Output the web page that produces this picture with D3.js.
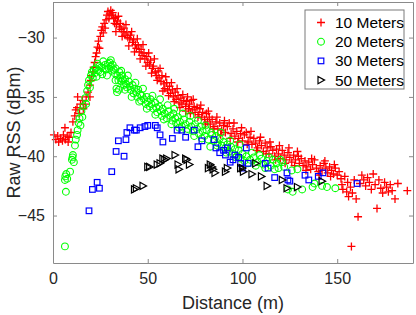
<!DOCTYPE html>
<html>
<head>
<meta charset="utf-8">
<script src="https://cdn.jsdelivr.net/npm/d3@7"></script>
<style>
    html, body { margin: 0; padding: 0; background: #fff; }
    svg { display: block; font-family: "Liberation Sans", Arial, sans-serif; }
</style>
</head>
<body>
<div id="chart"></div>
<script>
// ---- data: [distance (m), raw RSS (dBm)]
const labels = ['10 Meters', '20 Meters', '30 Meters', '50 Meters'];
const xTicks = [0, 50, 100, 150];
const yTicks = [-45, -40, -35, -30];

const meters10 = [
    [0.5,-38.2],[1.5,-38.6],[2.5,-38.3],[3,-38.8],[4,-38.5],[5,-38.7],[5.5,-38.2],[6.3,-37.6],[6.5,-38.6],[7.5,-38.3],
    [8,-38.8],[8.5,-38.4],[9.5,-38.0],[10.5,-37.1],[11.5,-36.6],[12,-36.1],[12.7,-35.9],[13,-35.0],[14,-36.4],[14.5,-35.6],
    [15.5,-35.3],[16,-36.0],[17,-35.6],[17.5,-35.0],[18.5,-34.6],[19.5,-35.0],[19.5,-34.0],[20,-33.6],[20.5,-33.2],[21,-32.9],
    [21.5,-32.5],[22,-32.1],[22.5,-31.6],[23,-31.3],[23.5,-30.8],[24,-30.3],[24.5,-30.9],[25,-29.9],[25.5,-29.4],[26,-29.1],
    [26.5,-29.6],[27,-28.8],[27.5,-29.2],[28,-28.5],[28.5,-28.1],[29,-27.8],[29.5,-28.4],[30,-28.0],[30.5,-27.7],[31,-28.1],
    [31.5,-27.9],[32,-28.4],[32.5,-28.8],[33,-28.3],[33.5,-28.9],[34,-28.6],[35,-29.1],[35.5,-28.8],[36,-29.3],[37,-29.5],
    [37.5,-29.2],[38,-29.8],[39,-29.6],[39.5,-30.0],[40.5,-30.1],[41,-29.8],[42,-30.4],[42.5,-30.2],[43.5,-30.6],[44,-30.9],
    [45,-30.7],[45.5,-31.2],[46.5,-31.0],[47,-31.5],[48,-31.3],[48.5,-31.8],[49.5,-31.6],[50,-32.1],[51,-32.3],[51.5,-31.9],
    [52.5,-32.6],[53,-32.4],[54,-32.9],[54.5,-33.2],[55.5,-32.8],[56,-33.4],[57,-33.7],[57.5,-33.2],[58.5,-33.9],[59,-34.3],
    [60,-33.8],[60.5,-34.4],[61.5,-34.1],[62,-34.7],[63,-34.4],[63.5,-35.0],[64.5,-34.6],[65,-35.2],[66,-34.9],[66.5,-35.5],
    [67.5,-35.1],[68,-35.6],[69,-35.3],[70,-35.8],[70.5,-35.4],[71.5,-36.0],[72,-35.6],[73,-35.3],[73.5,-36.1],[74.5,-35.8],
    [75,-36.3],[76,-35.9],[77,-36.5],[77.5,-36.0],[78.5,-36.7],[79,-36.3],[80,-36.9],[81,-36.4],[81.5,-37.1],[82.5,-36.7],
    [83,-37.3],[84,-36.9],[85,-37.5],[86,-37.1],[87,-37.7],[88,-37.2],[89,-37.8],[90,-37.4],[91,-38.0],[92,-37.5],
    [93,-37.2],[94,-38.1],[95,-37.7],[96,-38.3],[97,-37.9],[98,-38.5],[99,-38.1],[100,-38.7],[101,-38.2],[102,-38.0],
    [103,-38.8],[104,-38.4],[105,-39.0],[106,-38.5],[107,-38.9],[108,-39.3],[109,-38.7],[110,-39.1],[111,-39.6],[112,-38.9],
    [113,-39.3],[114,-39.8],[115,-39.2],[116,-39.5],[117,-40.0],[118,-39.4],[119,-39.8],[120,-40.2],[121,-39.5],[122,-39.9],
    [123,-40.3],[124,-39.7],[125,-40.1],[126,-40.5],[127,-39.9],[128,-40.3],[129,-39.6],[130,-40.6],[131,-40.2],[132,-40.8],
    [133,-40.4],[134,-40.9],[135,-40.5],[136,-41.1],[137,-40.7],[138,-40.3],[139,-41.0],[140,-41.3],[141,-40.8],[142,-41.2],
    [143,-40.6],[144,-41.0],[145,-41.4],[146,-40.9],[147,-41.2],[148,-41.5],[149,-41.0],[150,-41.6],[151,-41.3],[152,-41.9],
    [152.5,-42.4],[153,-42.8],[154,-41.7],[155,-43.0],[155.5,-42.2],[156,-43.4],[157,-42.6],[157.5,-47.6],[158,-43.1],[159,-42.0],
    [160,-43.6],[161,-45.1],[162,-42.3],[163,-41.6],[164,-42.0],[165,-42.5],[166,-41.8],[167,-42.2],[168,-42.8],[169,-41.5],
    [170,-42.4],[171,-44.4],[172,-42.0],[173,-42.7],[174,-43.1],[175,-42.2],[176,-42.6],[177,-43.0],[178,-42.4],[179,-42.9],
    [180.5,-43.6],[182,-42.3],[187,-42.9],
    // second pass over the wide part of the band
    [33.2,-29.5],[34.5,-28.2],[36.5,-29.9],[38.5,-28.9],[40,-30.7],[41.5,-29.5],[43,-31.2],[44.5,-30.1],[46,-31.8],[47.5,-30.6],
    [49,-32.4],[50.5,-31.3],[52,-33.0],[53.5,-31.8],[55,-33.6],[56.5,-32.6],[58,-34.5],[59.5,-33.3],[61,-34.9],[62.5,-33.8],
    [64,-35.4],[65.5,-34.3],[67,-35.9],[68.5,-34.8],[70,-36.2],[71,-35.0],[72.5,-36.4],[74,-35.2],[76.5,-36.7],[78,-35.7],
    [80.5,-37.3],[82,-36.2],[84.5,-37.7],[86.5,-36.7],[88.5,-38.2],[90.5,-37.0],[93.5,-38.5],[95.5,-37.2],[97.5,-38.8],[99.5,-37.6],
    [102.5,-39.0],[104.5,-37.9],[107.5,-39.5],[109.5,-38.4],[112.5,-39.8],[114.5,-38.8],[117.5,-40.3],[119.5,-39.1],[122.5,-40.6],[124.5,-39.3],
    [127.5,-40.8],[129.5,-40.0],[133.5,-41.2],[136.5,-40.2],[140.5,-41.6],[143.5,-40.4],[146.5,-41.7],[148.5,-40.7]
];

const meters20 = [
    [6.3,-47.6],[6.8,-43.0],[6.3,-42.0],[6.5,-41.7],[7,-41.5],[7.5,-41.9],[9,-41.3],[10,-40.3],[10.3,-40.1],[10.5,-39.9],
    [11,-40.5],[11.6,-39.1],[12,-38.6],[12.7,-38.2],[13,-37.8],[13.5,-37.2],[14,-36.8],[14.5,-37.4],[15,-36.2],[15.5,-36.7],
    [16,-35.8],[17,-35.1],[17.5,-35.6],[18,-34.5],[18.5,-34.0],[19,-33.6],[19.5,-34.2],[20,-33.2],[20.5,-32.9],[21,-33.4],
    [21.5,-32.7],[22,-33.0],[22.5,-32.6],[23,-33.3],[24,-32.8],[24.5,-32.4],[25,-32.9],[25.5,-32.5],[26,-33.1],[27,-32.6],
    [27.5,-32.3],[28,-32.7],[29,-32.2],[29.5,-32.6],[30,-32.1],[30.5,-32.4],[31,-32.8],[31.5,-32.3],[32,-32.7],[32.5,-33.0],
    [33,-32.6],[33.5,-34.3],[33.8,-34.6],[34,-33.2],[34.5,-33.6],[35,-32.9],[35.5,-33.4],[36,-33.7],[36.5,-33.2],[37,-33.6],
    [37.5,-34.0],[38,-33.5],[38.5,-33.9],[39,-34.2],[40,-33.7],[40.5,-34.1],[41,-34.4],[42,-34.0],[42.5,-34.7],[43,-34.3],
    [44,-34.6],[44.5,-35.0],[45,-34.4],[46,-34.8],[46.5,-35.3],[47,-34.9],[48,-35.2],[49,-35.6],[49.5,-35.0],[50,-35.4],
    [51,-35.8],[51.5,-35.2],[52,-35.6],[53,-36.0],[54,-35.5],[54.5,-35.9],[55,-36.3],[56,-35.8],[57,-36.2],[57.5,-36.6],
    [58,-36.0],[59,-36.4],[60,-36.8],[61,-36.2],[62,-36.6],[63,-37.0],[63.5,-36.4],[64.5,-36.8],[65,-37.2],[66,-36.7],
    [67,-37.1],[68,-37.5],[69,-36.9],[70,-37.3],[71,-37.7],[72,-37.1],[73,-37.5],[74,-37.9],[75,-37.3],[76,-37.7],
    [77,-38.1],[78,-37.5],[79,-37.9],[80,-38.3],[81,-37.8],[82,-38.6],[83,-39.2],[84,-38.2],[85,-38.7],[86,-38.3],
    [87,-38.9],[88,-38.5],[89,-39.1],[90,-38.8],[91,-39.3],[92,-39.0],[93,-39.6],[94,-39.2],[95,-39.8],[96,-39.4],
    [97,-40.0],[98,-39.5],[99,-40.2],[100,-39.8],[101,-40.4],[102,-40.0],[104,-40.3],[106,-40.1],[108,-40.5],[110,-40.2],
    [111,-40.7],[113,-40.4],[115,-40.8],[116,-40.3],[118,-40.6],[119,-41.0],[121,-40.5],[122,-40.9],[124,-42.8],[126,-41.2],
    [126.5,-43.0],[129,-41.1],[131.5,-42.8],[137,-42.6],[138,-42.3],[142,-42.5],[144.6,-42.6],[149,-42.7],
    // second pass over the wide part of the band
    [23.5,-32.2],[26.5,-32.0],[28.5,-33.2],[30.5,-31.9],[33,-33.6],[34.8,-34.4],[36,-32.8],[38,-34.4],[39.5,-33.2],[41.5,-35.0],
    [43.5,-33.8],[45.5,-35.4],[47.5,-34.3],[49.5,-36.0],[52.5,-34.9],[54,-36.5],[56.5,-35.2],[58.5,-36.9],[60.5,-35.7],[62.5,-37.3],
    [64,-36.0],[66.5,-37.6],[68.5,-36.4],[70.5,-37.9],[72.5,-36.6],[74.5,-38.3],[76.5,-37.0],[78.5,-38.5],[80.5,-37.4],[83.5,-38.0],
    [86.5,-39.1],[88.5,-38.0],[91.5,-39.7],[93.5,-38.7],[96.5,-40.1],[98.5,-39.0],[103,-40.6],[105,-39.7],[107,-40.8],[109,-39.9],
    [112,-41.0],[114,-40.1],[117,-41.1],[120,-40.3]
];

const meters30 = [
    [19,-44.6],[20.8,-42.8],[23.3,-42.2],[24.5,-42.7],[31,-41.3],[33.3,-39.6],[34.5,-38.7],[37.5,-40.0],[38.5,-38.6],[39,-38.0],
    [40.6,-37.6],[43,-37.8],[44,-37.8],[46,-37.6],[48.5,-37.5],[50,-37.4],[54,-37.4],[55,-37.6],[56.5,-38.2],[58,-38.8],
    [63,-38.5],[65.5,-37.8],[68,-37.8],[70,-38.4],[74.5,-37.8],[76.5,-39.2],[78.6,-38.7],[85,-38.6],[86,-39.3],[88,-39.7],
    [90,-39.5],[91,-39.9],[92,-39.3],[93.5,-40.5],[95,-40.3],[96,-39.9],[98,-40.1],[99,-40.6],[100,-41.0],[102,-39.3],
    [103,-40.6],[112,-40.6],[113.5,-41.0],[117,-41.8],[123.5,-41.4],[124,-42.0],[125,-42.1],[133,-41.6],[135,-42.0],[140,-41.7],
    [142.5,-41.4],[160.5,-42.3]
];

const meters50 = [
    [43,-42.8],[44,-42.7],[47.5,-42.5],[50,-40.9],[51,-40.9],[55,-40.7],[56.5,-40.6],[58,-40.2],[59,-40.3],[60,-40.2],
    [64.4,-39.9],[66,-40.7],[66.5,-41.1],[70,-40.2],[70.7,-40.3],[72,-40.7],[82,-41.0],[83,-40.7],[84,-40.9],[84.5,-41.1],
    [85.5,-41.4],[91,-41.3],[92,-41.0],[99,-41.0],[100,-41.0],[100.5,-41.3],[105,-41.5],[107,-40.6],[110,-41.7],[113,-42.5],
    [121,-42.0],[123.5,-42.7],[129,-42.6],[142,-42.1]
];

// -------------------------
const W = 416, H = 315;
const margin = { top: 2, right: 3, bottom: 52, left: 53 };
const width = W - margin.left - margin.right;
const height = H - margin.top - margin.bottom;
const axisColor = '#8a8a8a';
const textColor = '#262626';

const x = d3.scaleLinear().domain([0, 190]).range([0, width]);
const y = d3.scaleLinear().domain([-49, -27]).range([height, 0]);

const svg = d3.select('#chart')
    .append('svg')
    .attr('width', W)
    .attr('height', H);

const g = svg.append('g')
    .attr('transform', `translate(${margin.left}, ${margin.top})`);

// marker drawers, one per series
function plus(sel, color) {
    sel.append('path')
        .attr('d', 'M-4,0H4M0,-4V4')
        .attr('stroke', color)
        .attr('stroke-width', 1.3)
        .attr('fill', 'none');
}
function circle(sel, color) {
    sel.append('circle')
        .attr('r', 3.4)
        .attr('stroke', color)
        .attr('stroke-width', 1.1)
        .attr('fill', 'none');
}
function square(sel, color) {
    sel.append('rect')
        .attr('x', -2.8).attr('y', -2.8)
        .attr('width', 5.6).attr('height', 5.6)
        .attr('stroke', color)
        .attr('stroke-width', 1.2)
        .attr('fill', 'none');
}
function triangle(sel, color) {
    sel.append('path')
        .attr('d', 'M-3,-3.6L3.6,0L-3,3.6Z')
        .attr('stroke', color)
        .attr('stroke-width', 1.2)
        .attr('fill', 'none');
}

const series = [
    { data: meters10, color: '#ff0000', draw: plus },
    { data: meters20, color: '#00ff00', draw: circle },
    { data: meters30, color: '#0000ff', draw: square },
    { data: meters50, color: '#000000', draw: triangle }
];

// points
series.forEach(s => {
    g.append('g')
        .selectAll('g')
        .data(s.data)
        .enter()
        .append('g')
        .attr('transform', d => `translate(${x(d[0])}, ${y(d[1])})`)
        .each(function () { s.draw(d3.select(this), s.color); });
});

// axes box with inward ticks on all sides
const axes = [
    g.append('g').attr('transform', `translate(0, ${height})`)
        .call(d3.axisBottom(x).tickValues(xTicks).tickSizeInner(-4).tickSizeOuter(0).tickPadding(10)),
    g.append('g')
        .call(d3.axisTop(x).tickValues(xTicks).tickSizeInner(-4).tickSizeOuter(0).tickFormat('')),
    g.append('g')
        .call(d3.axisLeft(y).tickValues(yTicks).tickSizeInner(-4).tickSizeOuter(0).tickPadding(8)),
    g.append('g').attr('transform', `translate(${width}, 0)`)
        .call(d3.axisRight(y).tickValues(yTicks).tickSizeInner(-4).tickSizeOuter(0).tickFormat(''))
];
axes.forEach(a => {
    a.select('.domain').attr('stroke', axisColor);
    a.selectAll('.tick line').attr('stroke', axisColor);
    a.selectAll('.tick text')
        .attr('fill', textColor)
        .style('font-size', '16px')
        .style('font-family', '"Liberation Sans", Arial, sans-serif');
});

// axis titles
svg.append('text')
    .attr('x', margin.left + width / 2)
    .attr('y', 309)
    .attr('text-anchor', 'middle')
    .attr('fill', textColor)
    .style('font-size', '18px')
    .text('Distance (m)');

svg.append('text')
    .attr('transform', `translate(20, ${margin.top + height / 2}) rotate(-90)`)
    .attr('text-anchor', 'middle')
    .attr('fill', textColor)
    .style('font-size', '18px')
    .text('Raw RSS (dBm)');

// legend
const legend = svg.append('g').attr('transform', 'translate(305, 10)');
legend.append('rect')
    .attr('width', 99)
    .attr('height', 79)
    .attr('fill', '#fff')
    .attr('stroke', '#7a7a7a')
    .attr('stroke-width', 1);

labels.forEach((lab, i) => {
    const row = legend.append('g').attr('transform', `translate(0, ${12.5 + i * 19.2})`);
    const m = row.append('g').attr('transform', 'translate(16, 0)');
    series[i].draw(m, series[i].color);
    row.append('text')
        .attr('x', 30)
        .attr('y', 5.5)
        .attr('fill', '#000')
        .style('font-size', '15.5px')
        .text(lab);
});
</script>
</body>
</html>
